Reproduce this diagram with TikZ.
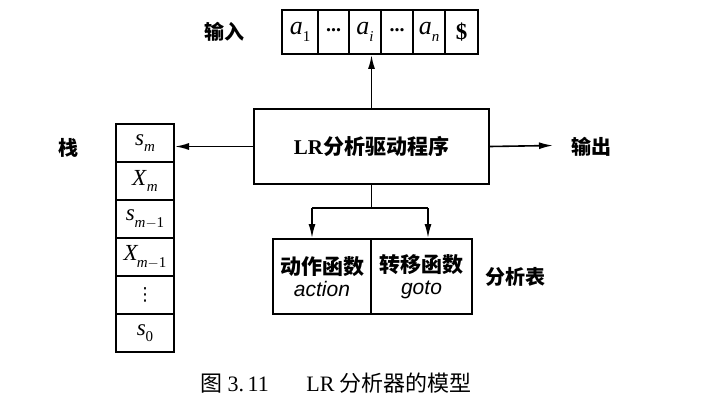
\documentclass[tikz,border=0pt]{standalone}
\usepackage{fontspec}
\setmainfont{Liberation Serif}
\newfontfamily\cjk{Noto Sans CJK SC}
\newfontfamily\itsans{Liberation Sans}
\newfontfamily\symf{DejaVu Sans}
\usetikzlibrary{arrows.meta}
\newcommand\symb[2]{\textit{#1}\raisebox{-0.28em}{\fontsize{15}{15}\selectfont #2}}
\begin{document}
\begin{tikzpicture}[x=1pt,y=-1pt,
  box/.style={draw, line width=2pt, inner sep=0pt, anchor=north west},
  arr/.style={-{Latex[length=14pt,width=7pt]}, line width=1.6pt},
  ln/.style={line width=1.6pt},
  lbl/.style={font=\cjk\bfseries\fontsize{20}{20}\selectfont},
  tape/.style={box, minimum height=44pt, font=\fontsize{26}{26}\selectfont},
  stk/.style={box, minimum width=58pt, minimum height=38pt, font=\fontsize{23}{23}\selectfont},
  tbl/.style={box, minimum height=75pt, align=center, font=\fontsize{21}{24}\selectfont}]
\useasboundingbox (0,0) rectangle (725,417);

% input tape
\node[tape, minimum width=36pt] (t1) at (281,9) {\symb{a}{1}};
\node[tape, minimum width=31pt] (t2) at (317,9) {\fontsize{20}{20}\selectfont\raisebox{0.15em}{\textbf{...}}};
\node[tape, minimum width=32pt] (t3) at (348,9) {\symb{a}{\textit{i}}};
\node[tape, minimum width=32pt] (t4) at (380,9) {\fontsize{20}{20}\selectfont\raisebox{0.15em}{\textbf{...}}};
\node[tape, minimum width=32pt] (t5) at (412,9) {\symb{a}{\textit{n}}};
\node[tape, minimum width=33pt] (t6) at (444,9) {\fontsize{23}{23}\selectfont\textbf{\$}};
\node[lbl] (lin) at (224,32) {输入};

% stack
\node[stk] (k1) at (115,123) {\symb{s}{\textit{m}}};
\node[stk] (k2) at (115,161) {\symb{X}{\textit{m}}};
\node[stk] (k3) at (115,199) {\symb{s}{\textit{m}$-$1}};
\node[stk] (k4) at (115,237) {\symb{X\kern-1pt}{\textit{m}$-$1}};
\node[stk] (k5) at (115,275) {\symf\fontsize{18}{18}\selectfont ⋮};
\node[stk] (k6) at (115,313) {\symb{s}{0}};
\node[lbl] (lstk) at (68,148) {栈};

% driver
\node[box, minimum width=235pt, minimum height=75pt,
      font=\bfseries\fontsize{21}{21}\selectfont] (drv) at (253,108) {LR{\cjk 分析驱动程序}};

\draw[arr] (drv.north) -- (drv.north |- t3.south);
\draw[arr] (drv.west) -- (drv.west -| k1.east);
\coordinate (outend) at (553,145.5);
\draw[arr] (drv.east) -- (outend);
\node[lbl] (lout) at (591,147) {输出};

% parse table
\node[tbl, minimum width=98pt] (act) at (272,238) {{\cjk\bfseries 动作函数}\\[-2pt]{\itsans\itshape action}};
\node[tbl, minimum width=101pt] (gto) at (370,238) {{\cjk\bfseries 转移函数}\\[-2pt]{\itsans\itshape goto}};
\node[lbl] (ltbl) at (515,277) {分析表};

\coordinate (bl) at (312,208);
\coordinate (brr) at (428,208);
\draw[ln] (drv.south) -- (drv.south |- bl);
\draw[ln] (bl) -- (brr);
\draw[arr] (bl) -- (bl |- act.north);
\draw[arr] (brr) -- (brr |- gto.north);

% caption
\node[font=\fontsize{22}{22}\selectfont] (cap) at (336,383) {{\cjk 图} 3.\,11\hspace{1.7em}LR {\cjk 分析器的模型}};
\end{tikzpicture}
\end{document}
